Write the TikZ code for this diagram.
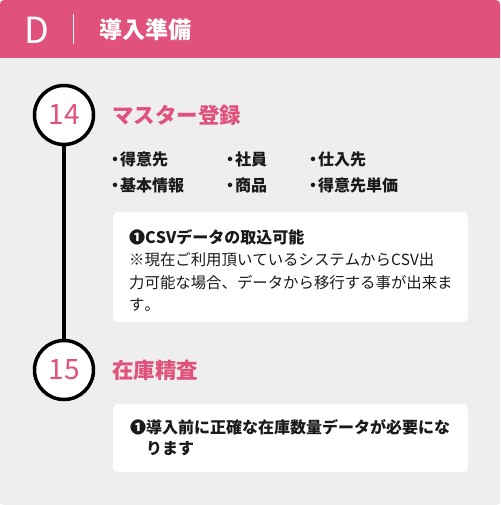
\documentclass[tikz,border=0pt]{standalone}
\usepackage{fontspec}
\setmainfont[Kerning=Off]{Noto Sans CJK JP}
\XeTeXlinebreaklocale "ja"
\XeTeXlinebreakskip=0pt plus 2pt
\newcommand{\dotitem}{\makebox[10pt]{・}}
\definecolor{rose}{RGB}{224,81,123}
\definecolor{panelgray}{RGB}{238,238,238}
\definecolor{ink}{RGB}{26,26,26}

\begin{document}
\begin{tikzpicture}[x=1pt, y=-1pt,
    stepnum/.style={circle, draw=black, line width=3.5pt, fill=white, minimum size=59pt, inner sep=0pt, text=rose, font=\fontsize{28}{28}\selectfont},
    heading/.style={anchor=west, inner sep=0pt, text=rose, font=\fontsize{21.5}{22}\selectfont\bfseries},
    item/.style={anchor=west, inner sep=0pt, text=ink, font=\fontsize{16}{18}\selectfont\bfseries},
    note/.style={anchor=west, inner sep=0pt, text=ink, font=\fontsize{15.4}{18}\selectfont},
    boldnote/.style={note, font=\fontsize{16}{18}\selectfont\bfseries},
    notebox/.style={fill=white, rounded corners=5pt}]
  \useasboundingbox (0,0) rectangle (500,505);
  % card
  \fill[panelgray, rounded corners=4pt] (0,0) rectangle (500,505);
  \fill[rose, rounded corners=4pt] (0,0) rectangle (500,58);
  \fill[rose] (0,20) rectangle (500,58);
  \node[text=white, inner sep=0pt, font=\fontsize{36}{36}\selectfont] (d) at (37,30) {D};
  \coordinate (sep1) at (73,14);
  \coordinate (sep2) at (73,44);
  \draw[white, line width=1pt] (sep1) -- (sep2);
  \node[anchor=west, inner sep=0pt, text=white, font=\fontsize{23}{23}\selectfont\bfseries] (title) at (99,30) {導入準備};

  % steps
  \node[stepnum] (s14) at (64,115) {14};
  \node[stepnum] (s15) at (64,370) {15};
  \draw[line width=3.5pt] (s14) -- (s15);

  \node[heading] (h14) at (112,115) {マスター登録};
  \node[heading] (h15) at (112,370) {在庫精査};

  \node[item] (a1) at (110,159) {\dotitem 得意先};
  \node[item] (a2) at (225,159) {\dotitem 社員};
  \node[item] (a3) at (308,159) {\dotitem 仕入先};
  \node[item] (b1) at (110,185) {\dotitem 基本情報};
  \node[item] (b2) at (225,185) {\dotitem 商品};
  \node[item] (b3) at (308,185) {\dotitem 得意先単価};

  % notes
  \fill[notebox] (113,212) rectangle (468,322);
  \node[boldnote] (n1) at (129,237) {❶CSVデータの取込可能};
  \node[note] (n2) at (129,260) {\makebox[321pt][s]{※現在ご利用頂いているシステムからCSV出}};
  \node[note] (n3) at (129,283) {力可能な場合、データから移行する事が出来ま};
  \node[note] (n4) at (129,305) {す。};

  \fill[notebox] (113,404) rectangle (468,472);
  \node[boldnote] (m1) at (130,427) {❶導入前に正確な在庫数量データが必要にな};
  \node[boldnote] (m2) at (146,449) {ります};
\end{tikzpicture}
\end{document}
